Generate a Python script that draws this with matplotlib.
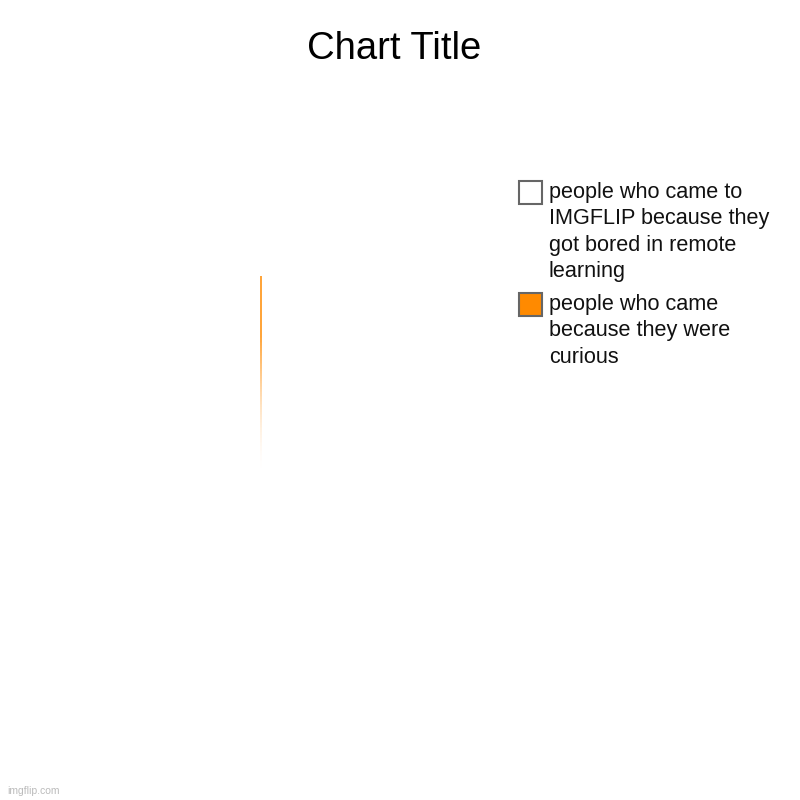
import matplotlib
matplotlib.use("Agg")
import matplotlib.pyplot as plt
import numpy as np
from matplotlib.collections import LineCollection
from matplotlib.patches import Rectangle

plt.rcParams["font.family"] = ["Liberation Sans", "DejaVu Sans"]

TITLE = "Chart Title"
LABELS = [
    "people who came to\nIMGFLIP because they\ngot bored in remote\nlearning",
    "people who came\nbecause they were\ncurious",
]
VALUES = [100, 0]
COLORS = ["#ffffff", "#ff8a00"]

fig = plt.figure(figsize=(8, 8), dpi=100)
fig.patch.set_facecolor("white")

# pie area: centre ~ (261, 471) px, radius ~195 px
cx, cy, r = 261 / 800, 1 - 471 / 800, 195 / 800
ax = fig.add_axes([cx - r, cy - r, 2 * r, 2 * r])
wedges, _ = ax.pie(VALUES, colors=COLORS, startangle=90, counterclock=False,
                   radius=1, wedgeprops=dict(linewidth=0))
ax.set_xlim(-1, 1)
ax.set_ylim(-1, 1)
ax.set_aspect("equal")
ax.axis("off")

# the empty slice only shows as a fading edge line from rim to centre
for w, val in zip(wedges, VALUES):
    if val == 0:
        ang = np.deg2rad(w.theta1)
        t = np.linspace(1, 0, 120)
        xs = w.center[0] + w.r * t * np.cos(ang)
        ys = w.center[1] + w.r * t * np.sin(ang)
        pts = np.column_stack([xs, ys]).reshape(-1, 1, 2)
        segs = np.concatenate([pts[:-1], pts[1:]], axis=1)
        tm = (t[:-1] + t[1:]) / 2
        alpha = np.clip(tm / 0.69, 0, 1) ** 1.6
        cols = np.zeros((len(segs), 4))
        cols[:, :3] = matplotlib.colors.to_rgb(w.get_facecolor()[:3])
        cols[:, 3] = alpha
        ax.add_collection(LineCollection(segs, colors=cols, linewidths=1.1))

fig.text(394 / 800, 1 - 49 / 800, TITLE, ha="center", va="center", fontsize=27.5)

# legend
tops = [181, 293]
for w, label, top in zip(wedges, LABELS, tops):
    sq = 23
    fig.patches.append(Rectangle((519 / 800, 1 - (top + sq) / 800), sq / 800, sq / 800,
                                 transform=fig.transFigure, facecolor=w.get_facecolor(),
                                 edgecolor="#666666", linewidth=1.5))
    fig.text(549 / 800, 1 - (top + 1) / 800, label, ha="left", va="top",
             fontsize=15.6, linespacing=1.33, color="#111111")

fig.text(7 / 800, 1 - 791 / 800, "imgflip.com", ha="left", va="center",
         fontsize=7.5, color="#bbbbbb")

fig.savefig("out.png", dpi=100, facecolor="white")
